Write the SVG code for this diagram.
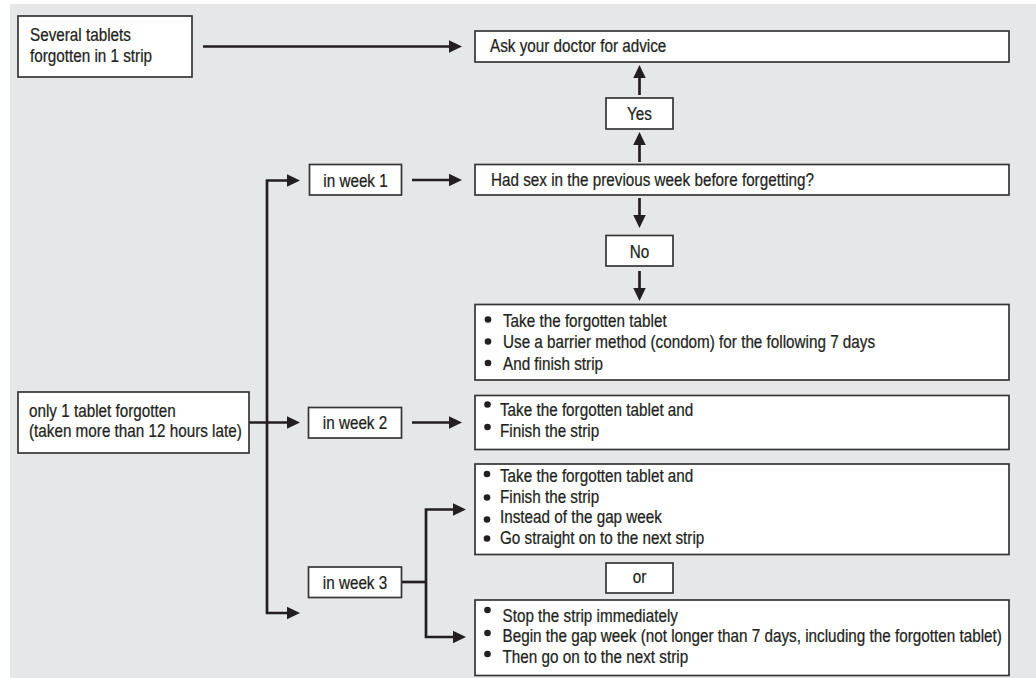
<svg xmlns="http://www.w3.org/2000/svg" width="1036" height="678" viewBox="0 0 1036 678">
  <defs>
    <style>
      .box { fill: #ffffff; stroke: #353535; stroke-width: 1.7; }
      .t { font-family: "Liberation Sans", Arial, sans-serif; font-size: 17.5px; fill: #231f20; stroke: #231f20; stroke-width: 0.25; }
      .c { text-anchor: middle; }
      .conn { fill: none; stroke: #231f20; stroke-width: 2.7; stroke-linejoin: miter; }
      .bul { fill: #231f20; }
    </style>
    <marker id="ah" markerUnits="userSpaceOnUse" markerWidth="14" markerHeight="14" viewBox="0 -7 14 14" refX="0" refY="0" orient="auto-start-reverse">
      <path d="M-0.5,-6.5 L13,0 L-0.5,6.5 z" fill="#231f20"/>
    </marker>
  </defs>

  <rect x="10" y="4" width="1026" height="674" fill="#e6e7e8"/>

  <g id="connectors">
    <path class="conn" d="M203,46.5 H449" marker-end="url(#ah)"/>
    <path class="conn" d="M639.5,95 V78" marker-end="url(#ah)"/>
    <path class="conn" d="M639.5,162 V145" marker-end="url(#ah)"/>
    <path class="conn" d="M639.5,198 V215" marker-end="url(#ah)"/>
    <path class="conn" d="M639.5,271 V288" marker-end="url(#ah)"/>
    <path class="conn" d="M287,180.5 H267 V613 H287" marker-start="url(#ah)" marker-end="url(#ah)"/>
    <path class="conn" d="M249,422.5 H287" marker-end="url(#ah)"/>
    <path class="conn" d="M412,180 H449" marker-end="url(#ah)"/>
    <path class="conn" d="M412,422.5 H449" marker-end="url(#ah)"/>
    <path class="conn" d="M402,582 H426"/>
    <path class="conn" d="M453,509.5 H426 V637 H453" marker-start="url(#ah)" marker-end="url(#ah)"/>
  </g>

  <g id="several-tablets">
    <rect class="box" x="18" y="16" width="174" height="61"/>
    <text class="t" transform="translate(30,41) scale(0.872,1)">Several tablets<tspan x="0" dy="21">forgotten in 1 strip</tspan></text>
  </g>

  <g id="ask-doctor">
    <rect class="box" x="475" y="31" width="534" height="31"/>
    <text class="t" transform="translate(490,51.5) scale(0.872,1)">Ask your doctor for advice</text>
  </g>

  <g id="yes">
    <rect class="box" x="606" y="98" width="67" height="31"/>
    <text class="t c" transform="translate(639.5,120) scale(0.872,1)">Yes</text>
  </g>

  <g id="week1">
    <rect class="box" x="309.5" y="164.5" width="92" height="30.5"/>
    <text class="t c" transform="translate(355.5,186.5) scale(0.872,1)">in week 1</text>
  </g>

  <g id="had-sex">
    <rect class="box" x="475" y="164.5" width="534" height="30.5"/>
    <text class="t" transform="translate(491,185.5) scale(0.872,1)">Had sex in the previous week before forgetting?</text>
  </g>

  <g id="no">
    <rect class="box" x="606" y="235.5" width="67" height="30.5"/>
    <text class="t c" transform="translate(639.5,258) scale(0.872,1)">No</text>
  </g>

  <g id="week1-result">
    <rect class="box" x="475" y="304.5" width="534" height="75.5"/>
    <circle class="bul" cx="488" cy="319.5" r="3.3"/>
    <circle class="bul" cx="488" cy="341.5" r="3.3"/>
    <circle class="bul" cx="488" cy="363" r="3.3"/>
    <text class="t" transform="translate(503,327) scale(0.872,1)">Take the forgotten tablet<tspan x="0" dy="21.3">Use a barrier method (condom) for the following 7 days</tspan><tspan x="0" dy="21.3">And finish strip</tspan></text>
  </g>

  <g id="only-one">
    <rect class="box" x="18" y="392" width="231" height="61"/>
    <text class="t" transform="translate(29,416.5) scale(0.872,1)">only 1 tablet forgotten<tspan x="0" dy="21">(taken more than 12 hours late)</tspan></text>
  </g>

  <g id="week2">
    <rect class="box" x="308.5" y="407.5" width="93" height="30.5"/>
    <text class="t c" transform="translate(355,428.5) scale(0.872,1)">in week 2</text>
  </g>

  <g id="week2-result">
    <rect class="box" x="475" y="395.5" width="534" height="54"/>
    <circle class="bul" cx="487.5" cy="404.5" r="3.3"/>
    <circle class="bul" cx="487.5" cy="427" r="3.3"/>
    <text class="t" transform="translate(500,415.5) scale(0.872,1)">Take the forgotten tablet and<tspan x="0" dy="21.2">Finish the strip</tspan></text>
  </g>

  <g id="week3-option1">
    <rect class="box" x="475" y="464" width="534" height="90.5"/>
    <circle class="bul" cx="487" cy="474" r="3.3"/>
    <circle class="bul" cx="487" cy="497.5" r="3.3"/>
    <circle class="bul" cx="487" cy="519.5" r="3.3"/>
    <circle class="bul" cx="487" cy="538.5" r="3.3"/>
    <text class="t" transform="translate(500,482) scale(0.872,1)">Take the forgotten tablet and<tspan x="0" dy="20.7">Finish the strip</tspan><tspan x="0" dy="20.7">Instead of the gap week</tspan><tspan x="0" dy="20.7">Go straight on to the next strip</tspan></text>
  </g>

  <g id="week3">
    <rect class="box" x="308.5" y="567" width="93" height="30.5"/>
    <text class="t c" transform="translate(355,588.5) scale(0.872,1)">in week 3</text>
  </g>

  <g id="or">
    <rect class="box" x="606" y="563" width="67" height="30"/>
    <text class="t c" transform="translate(639.5,583) scale(0.872,1)">or</text>
  </g>

  <g id="week3-option2">
    <rect class="box" x="475" y="600" width="534" height="75.5"/>
    <circle class="bul" cx="487.5" cy="610" r="3.3"/>
    <circle class="bul" cx="487.5" cy="633" r="3.3"/>
    <circle class="bul" cx="487.5" cy="654" r="3.3"/>
    <text class="t" transform="translate(502.5,621.5) scale(0.872,1)">Stop the strip immediately<tspan x="0" dy="20.8">Begin the gap week (not longer than 7 days, including the forgotten tablet)</tspan><tspan x="0" dy="20.8">Then go on to the next strip</tspan></text>
  </g>
</svg>
